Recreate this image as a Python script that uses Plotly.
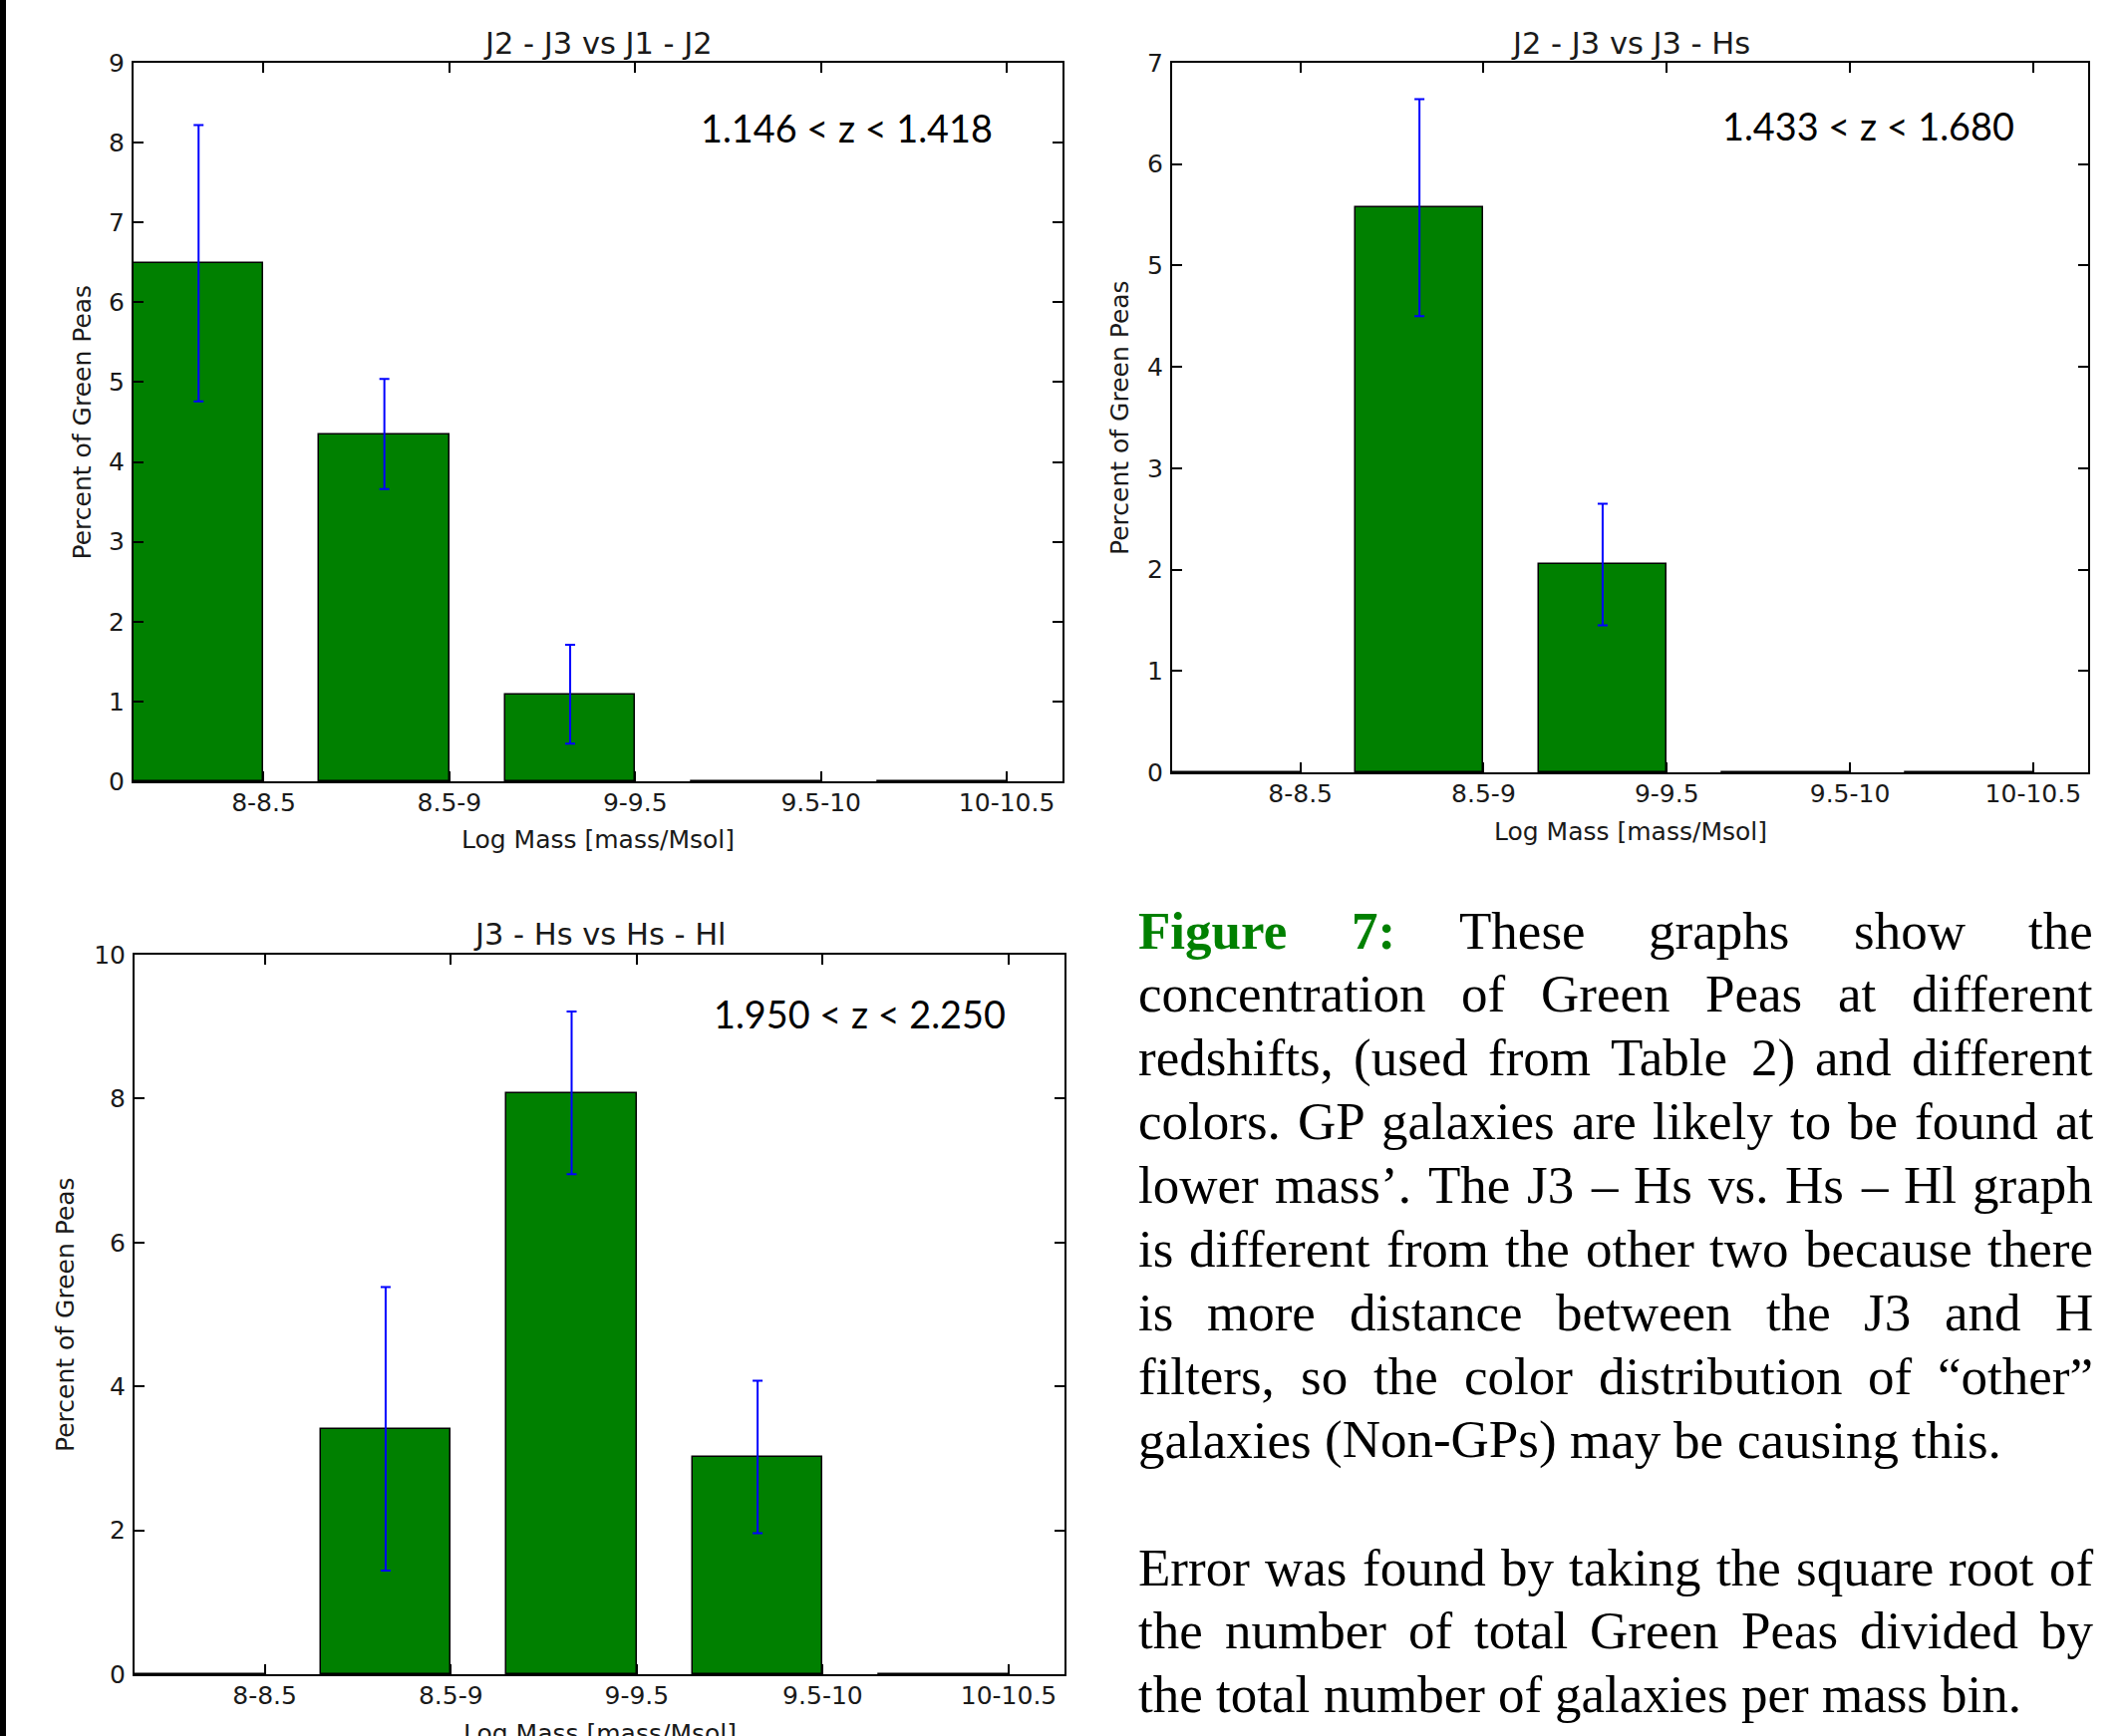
import plotly.graph_objects as go

W, H = 2130, 1742

# ---------------- data ----------------
categories = ["8-8.5", "8.5-9", "9-9.5", "9.5-10", "10-10.5"]

p1_values = [6.49, 4.35, 1.09, 0.0, 0.0]
p1_errors = [1.73, 0.69, 0.62, 0.0, 0.0]

p2_values = [0.0, 5.57, 2.05, 0.0, 0.0]
p2_errors = [0.0, 1.07, 0.60, 0.0, 0.0]

p3_values = [0.0, 3.41, 8.08, 3.02, 0.0]
p3_errors = [0.0, 1.97, 1.13, 1.06, 0.0]

panel_titles = ["J2 - J3 vs J1 - J2", "J2 - J3 vs J3 - Hs", "J3 - Hs vs Hs - Hl"]
z_labels = ["1.146 < z < 1.418", "1.433 < z < 1.680", "1.950 < z < 2.250"]
y_max = [9, 7, 10]
y_dtick = [1, 1, 2]
x_label = "Log Mass [mass/Msol]"
y_label = "Percent of Green Peas"

caption_para1 = [
    "Figure 7: These graphs show the",
    "concentration of Green Peas at different",
    "redshifts, (used from Table 2) and different",
    "colors. GP galaxies are likely to be found at",
    "lower mass\u2019. The J3 \u2013 Hs vs. Hs \u2013 Hl graph",
    "is different from the other two because there",
    "is more distance between the J3 and H",
    "filters, so the color distribution of \u201cother\u201d",
    "galaxies (Non-GPs) may be causing this.",
]
caption_para2 = [
    "Error was found by taking the square root of",
    "the number of total Green Peas divided by",
    "the total number of galaxies per mass bin.",
]
bold_words = ["Figure", "7:"]

# ---------------- layout geometry (pixels) ----------------
panels = [
    dict(x0=134, x1=1066, y0=63, y1=784, ylab_x=82, title_y=44, xlab_y=842, z_x=849, z_y=128),
    dict(x0=1176, x1=2095, y0=63, y1=775, ylab_x=1124, title_y=44, xlab_y=834, z_x=1874, z_y=126),
    dict(x0=135, x1=1068, y0=958, y1=1680, ylab_x=65, title_y=937, xlab_y=1739, z_x=862, z_y=1017),
]
values = [p1_values, p2_values, p3_values]
errors = [p1_errors, p2_errors, p3_errors]

BAR_W = 0.7
bar_x = [i + BAR_W / 2 for i in range(len(categories))]
tick_x = [i + BAR_W for i in range(len(categories))]

def fx(x):
    return x / W

def fy(y):
    return 1 - y / H

AX_FONT = dict(family="DejaVu Sans", size=25, color="#1a1a1a")
TITLE_FONT = dict(family="DejaVu Sans", size=30.5, color="#1a1a1a")

fig = go.Figure()
annotations = []
layout_axes = {}

for k, p in enumerate(panels):
    n = "" if k == 0 else str(k + 1)
    xa, ya = "x" + n, "y" + n
    fig.add_trace(go.Bar(
        x=bar_x, y=values[k], width=BAR_W, xaxis=xa, yaxis=ya,
        marker=dict(color="#008000", line=dict(color="black", width=1.5)),
        showlegend=False, hoverinfo="skip",
    ))
    ex = [bar_x[i] for i in range(len(categories)) if values[k][i] > 0]
    ey = [values[k][i] for i in range(len(categories)) if values[k][i] > 0]
    ee = [errors[k][i] for i in range(len(categories)) if values[k][i] > 0]
    fig.add_trace(go.Scatter(
        x=ex, y=ey, xaxis=xa, yaxis=ya, mode="markers",
        marker=dict(size=1, color="rgba(0,0,0,0)"),
        error_y=dict(type="data", array=ee, visible=True, color="#0000ff", thickness=2, width=5),
        showlegend=False, hoverinfo="skip",
    ))
    layout_axes["xaxis" + n] = dict(
        domain=[fx(p["x0"]), fx(p["x1"])], anchor=ya, range=[0, len(categories)],
        tickmode="array", tickvals=tick_x, ticktext=categories,
        ticks="inside", ticklen=10, tickwidth=1.5, tickcolor="black",
        showline=True, linecolor="black", linewidth=2, mirror="ticks",
        showgrid=False, zeroline=False, tickfont=AX_FONT, ticklabelstandoff=-2,
        automargin=False,
    )
    layout_axes["yaxis" + n] = dict(
        domain=[fy(p["y1"]), fy(p["y0"])], anchor=xa, range=[0, y_max[k]], dtick=y_dtick[k],
        tick0=0, ticks="inside", ticklen=10, tickwidth=1.5, tickcolor="black",
        showline=True, linecolor="black", linewidth=2, mirror="ticks",
        showgrid=False, zeroline=False, tickfont=AX_FONT, ticklabelstandoff=2,
        automargin=False,
    )
    cx = (p["x0"] + p["x1"]) / 2
    cy = (p["y0"] + p["y1"]) / 2
    annotations += [
        dict(text=panel_titles[k], x=fx(cx), y=fy(p["title_y"]), xref="paper", yref="paper",
             xanchor="center", yanchor="middle", showarrow=False, font=TITLE_FONT),
        dict(text=x_label, x=fx(cx), y=fy(p["xlab_y"]), xref="paper", yref="paper",
             xanchor="center", yanchor="middle", showarrow=False, font=AX_FONT),
        dict(text=y_label, x=fx(p["ylab_x"]), y=fy(cy), xref="paper", yref="paper",
             xanchor="center", yanchor="middle", showarrow=False, font=AX_FONT, textangle=-90),
        dict(text=z_labels[k], x=fx(p["z_x"]), y=fy(p["z_y"]), xref="paper", yref="paper",
             xanchor="center", yanchor="middle", showarrow=False,
             font=dict(family="Lato", size=37.8, color="black")),
    ]

# ---------------- caption (justified, Times metrics) ----------------
TIMES = {' ': 250, '!': 333, '"': 408, "'": 180, '(': 333, ')': 333, ',': 250, '-': 333,
         '.': 250, '/': 278, ':': 278, ';': 278, '\u2019': 333, '\u201c': 444, '\u201d': 444,
         '\u2013': 500}
for ch in "0123456789":
    TIMES[ch] = 500
TIMES.update(dict(zip("ABCDEFGHIJKLMNOPQRSTUVWXYZ",
    [722, 667, 667, 722, 611, 556, 722, 722, 333, 389, 722, 611, 889, 722, 722, 556, 722, 667,
     556, 611, 722, 722, 944, 722, 722, 611])))
TIMES.update(dict(zip("abcdefghijklmnopqrstuvwxyz",
    [444, 500, 444, 500, 444, 333, 500, 500, 278, 278, 500, 278, 778, 500, 500, 500, 500, 333,
     389, 278, 500, 500, 722, 500, 500, 444])))
TIMES_B = dict(TIMES)
TIMES_B.update({'F': 611, 'i': 278, 'g': 500, 'u': 556, 'r': 444, 'e': 444, '7': 500, ':': 333})

CAP_SIZE = 53
CAP_LEFT, CAP_RIGHT = 1141, 2099
BASE0, LINE_H = 950, 63.9

def word_w(w, bold):
    tbl = TIMES_B if bold else TIMES
    return sum(tbl.get(c, 500) for c in w) * CAP_SIZE / 1000.0

def place_line(line, row, justify):
    words = line.split(" ")
    bolds = [w in bold_words and row == 0 for w in words]
    widths = [word_w(w, b) for w, b in zip(words, bolds)]
    if justify and len(words) > 1:
        gap = (CAP_RIGHT - CAP_LEFT - sum(widths)) / (len(words) - 1)
    else:
        gap = TIMES[' '] * CAP_SIZE / 1000.0
    x = CAP_LEFT
    yc = BASE0 + row * LINE_H - 0.31 * CAP_SIZE
    for w, b, wd in zip(words, bolds, widths):
        annotations.append(dict(
            text=("<b>%s</b>" % w) if b else w, x=fx(x), y=fy(yc), xref="paper", yref="paper",
            xanchor="left", yanchor="middle", showarrow=False, borderpad=0,
            font=dict(family="Liberation Serif", size=CAP_SIZE,
                      color="#008000" if b else "black")))
        x += wd + gap

for i, line in enumerate(caption_para1):
    place_line(line, i, i < len(caption_para1) - 1)
for i, line in enumerate(caption_para2):
    place_line(line, len(caption_para1) + 1 + i, i < len(caption_para2) - 1)

fig.update_layout(
    width=W, height=H, autosize=False,
    margin=dict(l=0, r=0, t=0, b=0, pad=0, autoexpand=False),
    paper_bgcolor="white", plot_bgcolor="white",
    annotations=annotations, bargap=0, showlegend=False,
    shapes=[dict(type="rect", xref="paper", yref="paper", x0=0, x1=fx(6), y0=0, y1=1,
                 fillcolor="black", line=dict(width=0), layer="above")],
    **layout_axes,
)

fig.write_html("out.html")
